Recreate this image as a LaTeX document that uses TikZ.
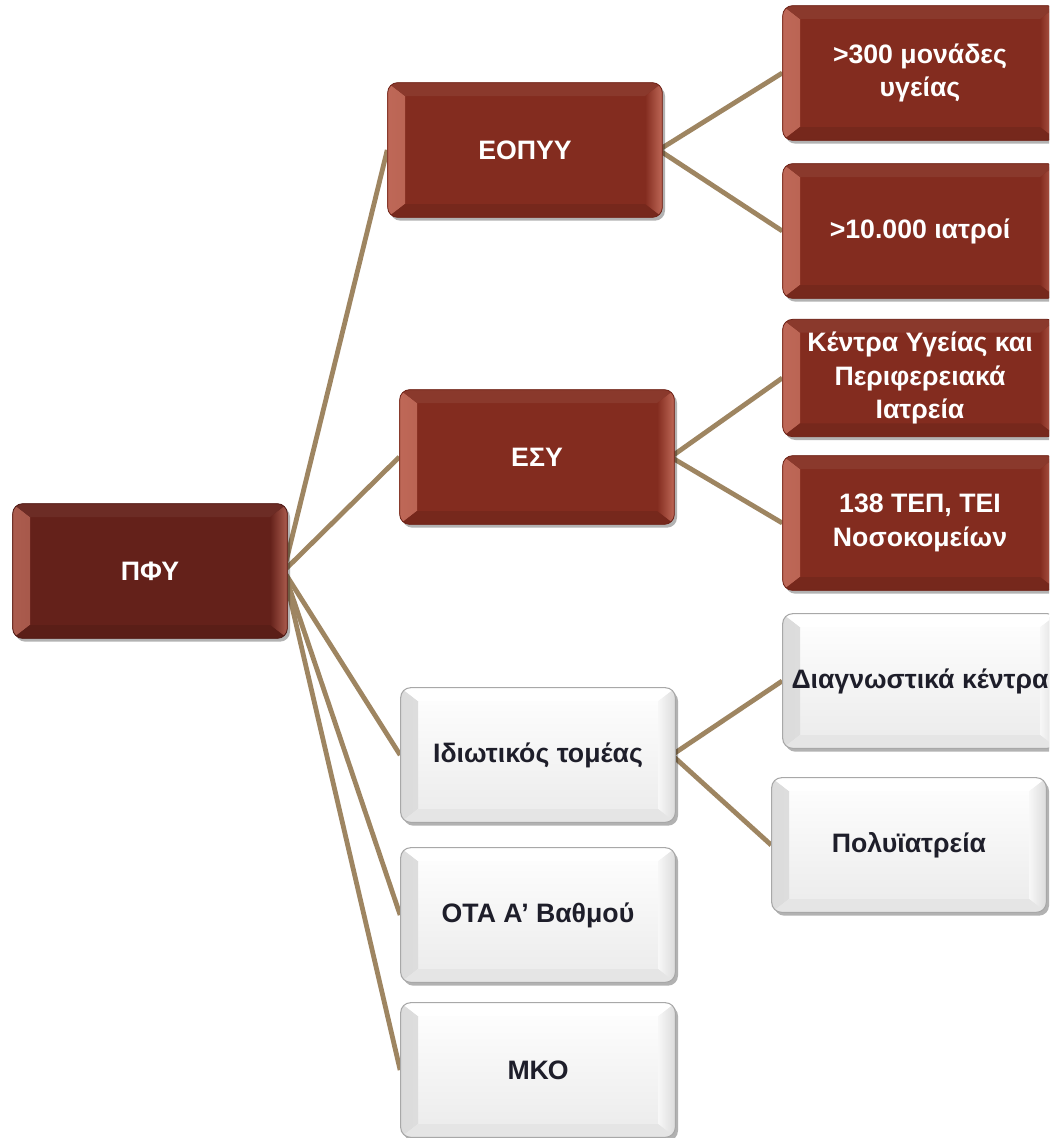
\documentclass[tikz,border=0pt]{standalone}
\usepackage{fontspec}
\setmainfont{Liberation Sans}
\usetikzlibrary{shadows,backgrounds}
\definecolor{redbase}{HTML}{832C1F}
\definecolor{reddark}{HTML}{64211A}
\definecolor{redhi}{HTML}{D27C6A}
\definecolor{redlow}{HTML}{6E2318}
\definecolor{linetan}{HTML}{9E8561}
\definecolor{wtext}{HTML}{1E1E2A}
\definecolor{wedge}{HTML}{A8A8A8}
\newcommand\bevelset[4]{%
  \shade[sharp corners,left color=#1,right color=#2]
    (path picture bounding box.north west) -- ([xshift=13pt,yshift=-10pt]path picture bounding box.north west)
    -- ([xshift=13pt,yshift=10pt]path picture bounding box.south west) -- (path picture bounding box.south west) -- cycle;
  \shade[sharp corners,left color=#2,right color=#1]
    (path picture bounding box.north east) -- ([xshift=-13pt,yshift=-10pt]path picture bounding box.north east)
    -- ([xshift=-13pt,yshift=10pt]path picture bounding box.south east) -- (path picture bounding box.south east) -- cycle;
  \fill[sharp corners,#3]
    (path picture bounding box.north west) -- ([xshift=13pt,yshift=-10pt]path picture bounding box.north west)
    -- ([xshift=-13pt,yshift=-10pt]path picture bounding box.north east) -- (path picture bounding box.north east) -- cycle;
  \fill[sharp corners,#4]
    (path picture bounding box.south west) -- ([xshift=13pt,yshift=10pt]path picture bounding box.south west)
    -- ([xshift=-13pt,yshift=10pt]path picture bounding box.south east) -- (path picture bounding box.south east) -- cycle;
}
\tikzset{
  box/.style={rounded corners=7.5pt, minimum width=206pt, minimum height=101pt,
    font=\bfseries\fontsize{20}{25}\selectfont, align=center, inner sep=1pt,
    drop shadow={shadow xshift=2pt, shadow yshift=-2.5pt, opacity=0.3, fill=black}},
  redbox/.style={box, fill=redbase, draw=redlow, line width=0.6pt, text=white,
    path picture={\bevelset{redhi!75!redbase}{redbase}{redbase!94!white}{redbase!90!black}}},
  pfybox/.style={box, fill=reddark, draw=reddark!80!black, line width=0.6pt, text=white,
    path picture={\bevelset{redhi!65!reddark}{reddark}{reddark!95!white}{reddark!90!black}}},
  whitebox/.style={box, top color=white, bottom color=white!92!black, draw=wedge, line width=0.8pt, text=wtext,
    path picture={\bevelset{white!86!black}{white!97!black}{white}{white!90!black}}},
  conn/.style={draw=linetan, line width=3.6pt},
}
\begin{document}
\begin{tikzpicture}[x=0.75pt,y=-0.75pt]
\clip (0,0) rectangle (1049,1138);

\node[pfybox] (pfy) at (150,571) {ΠΦΥ};

\node[redbox] (eopyy) at (525,150) {ΕΟΠΥΥ};
\node[redbox] (esy) at (537,457) {ΕΣΥ};
\node[whitebox] (idiot) at (538,755) {Ιδιωτικός τομέας};
\node[whitebox] (ota) at (538,915) {ΟΤΑ Α’ Βαθμού};
\node[whitebox] (mko) at (538,1070) {ΜΚΟ};

\node[redbox] (monades) at (920,73) {>300 μονάδες\\υγείας};
\node[redbox] (iatroi) at (920,231) {>10.000 ιατροί};
\node[redbox, minimum height=88pt] (kentra) at (920,378) {Κέντρα Υγείας και\\Περιφερειακά\\Ιατρεία};
\node[redbox] (tep) at (920,523) {138 ΤΕΠ, ΤΕΙ\\Νοσοκομείων};
\node[whitebox] (diag) at (920,681) {Διαγνωστικά κέντρα};
\node[whitebox] (poly) at (909,845) {Πολυϊατρεία};

\begin{scope}[on background layer]
\fill[white] (0,0) rectangle (1049,1138);
\foreach \c in {eopyy,esy,idiot,ota,mko}
  \draw[conn] ([xshift=-3pt]pfy.east) -- (\c.west);
\foreach \c in {monades,iatroi}
  \draw[conn] ([xshift=-3pt]eopyy.east) -- (\c.west);
\foreach \c in {kentra,tep}
  \draw[conn] ([xshift=-3pt]esy.east) -- (\c.west);
\foreach \c in {diag,poly}
  \draw[conn] ([xshift=-3pt]idiot.east) -- (\c.west);
\end{scope}
\end{tikzpicture}
\end{document}
